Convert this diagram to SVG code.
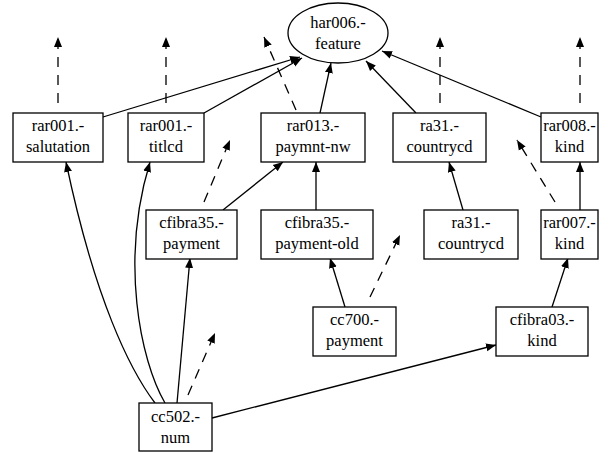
<svg xmlns="http://www.w3.org/2000/svg" width="612" height="453" viewBox="0 0 612 453">
<style>
.n rect,.n ellipse{fill:#fff;stroke:#000;stroke-width:1.3}
text{font-size:16.5px;text-anchor:middle;fill:#000}
.e path{fill:none;stroke:#000;stroke-width:1.3}
.e .d{stroke-dasharray:10,8}
</style>
<defs>
<marker id="a" viewBox="0 0 10 10" refX="10" refY="5" markerWidth="10" markerHeight="10" markerUnits="userSpaceOnUse" orient="auto">
<path d="M0,1 L10,5 L0,9 Z" fill="#000"/>
</marker>
</defs>
<g class="e">
<path d="M103,117 L300,57" marker-end="url(#a)"/>
<path d="M204,113 L302,58" marker-end="url(#a)"/>
<path d="M320,113 L331,63" marker-end="url(#a)"/>
<path d="M416,113 L366,61" marker-end="url(#a)"/>
<path d="M541,117 L382,51" marker-end="url(#a)"/>
<path d="M223,210 L283,162" marker-end="url(#a)"/>
<path d="M316,210 L316,162" marker-end="url(#a)"/>
<path d="M463,210 L449,162" marker-end="url(#a)"/>
<path d="M580,210 L580,162" marker-end="url(#a)"/>
<path d="M345,307 L330,258" marker-end="url(#a)"/>
<path d="M552,307 L568,258" marker-end="url(#a)"/>
<path d="M212,418 L496,345" marker-end="url(#a)"/>
<path d="M177,403 L190,258" marker-end="url(#a)"/>
<path d="M165,403 C140,360 120,260 150,162" marker-end="url(#a)"/>
<path d="M155,403 C130,370 95,300 66,162" marker-end="url(#a)"/>
<path class="d" d="M58,103 L58,37" marker-end="url(#a)"/>
<path class="d" d="M166,103 L166,37" marker-end="url(#a)"/>
<path class="d" d="M296,110 L264,37" marker-end="url(#a)"/>
<path class="d" d="M440,103 L440,37" marker-end="url(#a)"/>
<path class="d" d="M580,103 L580,37" marker-end="url(#a)"/>
<path class="d" d="M204,202 L230,140" marker-end="url(#a)"/>
<path class="d" d="M555,202 L517,140" marker-end="url(#a)"/>
<path class="d" d="M370,297 L400,235" marker-end="url(#a)"/>
<path class="d" d="M188,395 L215,333" marker-end="url(#a)"/>
</g>
<g font-family="Liberation Serif, Times New Roman, Times, serif">
<g id="har006" class="n"><ellipse cx="338" cy="33" rx="50" ry="30"/><text x="338" y="28">har006.-</text><text x="338" y="49">feature</text></g>
<g id="rar001s" class="n"><rect x="13" y="113" width="90" height="49"/><text x="58" y="131">rar001.-</text><text x="58" y="152">salutation</text></g>
<g id="rar001t" class="n"><rect x="128" y="113" width="76" height="49"/><text x="166" y="131">rar001.-</text><text x="166" y="152">titlcd</text></g>
<g id="rar013" class="n"><rect x="261" y="113" width="104" height="49"/><text x="313" y="131">rar013.-</text><text x="313" y="152">paymnt-nw</text></g>
<g id="ra31a" class="n"><rect x="393" y="113" width="93" height="49"/><text x="439.5" y="131">ra31.-</text><text x="439.5" y="152">countrycd</text></g>
<g id="rar008" class="n"><rect x="541" y="113" width="57" height="49"/><text x="569.5" y="131">rar008.-</text><text x="569.5" y="152">kind</text></g>
<g id="cfibra35p" class="n"><rect x="146" y="210" width="91" height="49"/><text x="191.5" y="228">cfibra35.-</text><text x="191.5" y="249">payment</text></g>
<g id="cfibra35o" class="n"><rect x="261" y="210" width="112" height="49"/><text x="317" y="228">cfibra35.-</text><text x="317" y="249">payment-old</text></g>
<g id="ra31b" class="n"><rect x="424" y="210" width="94" height="49"/><text x="471" y="228">ra31.-</text><text x="471" y="249">countrycd</text></g>
<g id="rar007" class="n"><rect x="541" y="210" width="57" height="49"/><text x="569.5" y="228">rar007.-</text><text x="569.5" y="249">kind</text></g>
<g id="cc700" class="n"><rect x="313" y="307" width="83" height="49"/><text x="354.5" y="325">cc700.-</text><text x="354.5" y="346">payment</text></g>
<g id="cfibra03" class="n"><rect x="496" y="307" width="92" height="49"/><text x="542" y="325">cfibra03.-</text><text x="542" y="346">kind</text></g>
<g id="cc502" class="n"><rect x="139" y="403" width="73" height="48"/><text x="175.5" y="422">cc502.-</text><text x="175.5" y="443">num</text></g>
</g>
</svg>
